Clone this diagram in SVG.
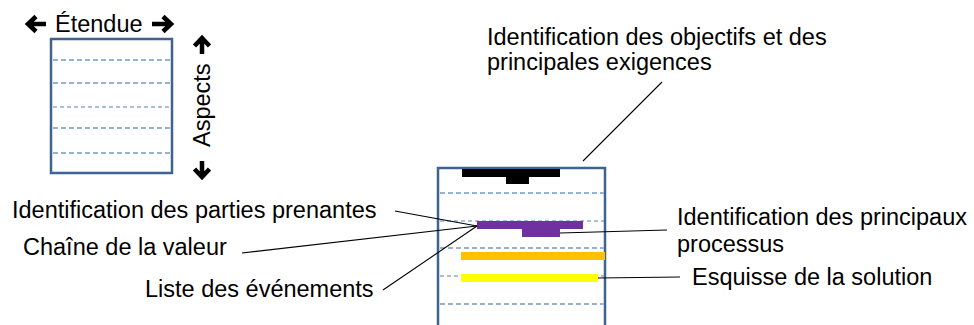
<svg xmlns="http://www.w3.org/2000/svg" width="974" height="325" viewBox="0 0 974 325">
<style>
text{font-family:"Liberation Sans",Arial,sans-serif;font-size:23.5px;fill:#000}
.frame{fill:none;stroke:#3F6390;stroke-width:2.5}
.dl{stroke:#95B3D7;stroke-width:2;stroke-dasharray:5,3}
.dd{stroke:#4F81BD;stroke-width:1.2;stroke-dasharray:4,3}
.arr{fill:none;stroke:#000;stroke-width:4.5}
.lead{stroke:#000;stroke-width:1.1;fill:none}
</style>
<rect width="974" height="325" fill="#fff"/>
<g id="legend">
  <rect class="frame" x="51" y="39" width="121" height="134"/>
  <line class="dl" x1="53" y1="60" x2="170" y2="60"/>
  <line class="dl" x1="53" y1="83" x2="170" y2="83"/>
  <line class="dd" x1="53" y1="107" x2="170" y2="107"/>
  <line class="dl" x1="53" y1="128" x2="170" y2="128"/>
  <line class="dl" x1="53" y1="153" x2="170" y2="153"/>
  <text x="55" y="32">Étendue</text>
  <path class="arr" d="M46,24 H29 M36,16.5 L28,24 L36,31.5"/>
  <path class="arr" d="M152,24 H170 M163,16.5 L171,24 L163,31.5"/>
  <text transform="translate(210,147) rotate(-90)">Aspects</text>
  <path class="arr" d="M202,54 V39 M194.5,46 L202,38 L209.5,46"/>
  <path class="arr" d="M202,161 V176 M194.5,169 L202,177 L209.5,169"/>
</g>
<g id="main-box">
  <path class="frame" d="M438,330 V168 H605 V330"/>
  <line class="dl" x1="440" y1="193" x2="604" y2="193"/>
  <line class="dd" x1="440" y1="221" x2="604" y2="221"/>
  <line class="dl" x1="440" y1="248" x2="604" y2="248"/>
  <line class="dd" x1="440" y1="276" x2="604" y2="276"/>
  <line class="dl" x1="440" y1="304" x2="604" y2="304"/>
</g>
<g id="bar-objectifs">
  <rect x="462" y="169" width="98" height="8" fill="#000"/>
  <rect x="506" y="169" width="23" height="15" fill="#000"/>
</g>
<g id="bar-parties">
  <rect x="477" y="221" width="106" height="8" fill="#7030A0"/>
  <rect x="522" y="228" width="38" height="9" fill="#7030A0"/>
</g>
<g id="bar-evenements">
  <rect x="461" y="252" width="144" height="8" fill="#FFC000"/>
</g>
<g id="bar-esquisse">
  <rect x="461" y="274" width="137" height="8" fill="#FFFF00"/>
</g>
<g id="connectors">
  <line class="lead" x1="662" y1="82" x2="583" y2="161"/>
  <line class="lead" x1="395" y1="211" x2="477" y2="226"/>
  <line class="lead" x1="242" y1="253" x2="477" y2="226"/>
  <line class="lead" x1="383" y1="290" x2="477" y2="226"/>
  <line class="lead" x1="560" y1="233" x2="667" y2="230"/>
  <line class="lead" x1="598" y1="278" x2="680" y2="277"/>
</g>
<g id="label-objectifs">
  <text x="487" y="45">Identification des objectifs et des</text>
  <text x="487" y="70">principales exigences</text>
</g>
<g id="label-parties"><text x="12" y="218">Identification des parties prenantes</text></g>
<g id="label-chaine"><text x="23" y="255">Chaîne de la valeur</text></g>
<g id="label-liste"><text x="145" y="297">Liste des événements</text></g>
<g id="label-processus">
  <text x="677" y="225">Identification des principaux</text>
  <text x="677" y="252">processus</text>
</g>
<g id="label-esquisse"><text x="692" y="285">Esquisse de la solution</text></g>
</svg>
